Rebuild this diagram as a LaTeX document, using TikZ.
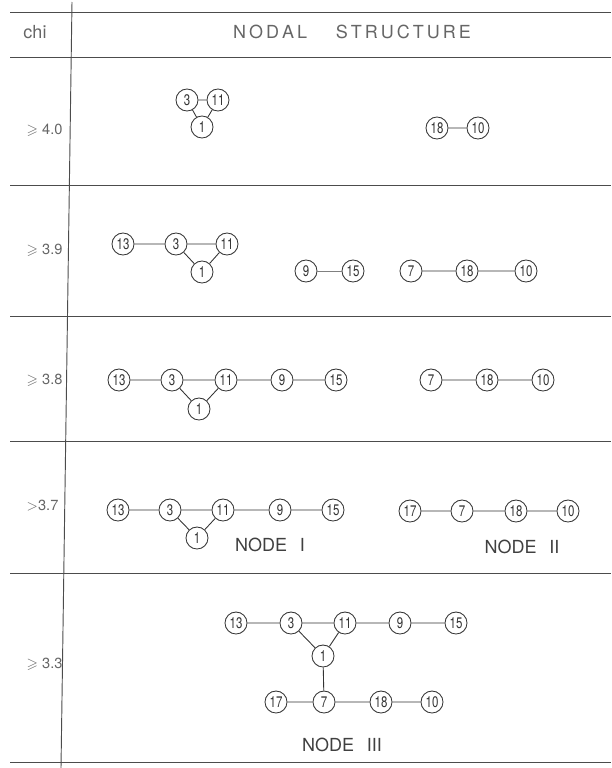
\documentclass[tikz,border=0pt]{standalone}
\usepackage{amssymb}
\usepackage{fontspec}
\setmainfont{TeX Gyre Heros}
\newfontfamily\digfont{TeX Gyre Heros}[FakeStretch=0.75]
\begin{document}
\begin{tikzpicture}[x=0.75pt,y=-0.75pt,
  rule/.style={draw=black!70,line width=0.7pt},
  vx/.style={circle,draw=black!80,line width=0.65pt,minimum size=16.5pt,inner sep=0pt,font=\digfont\fontsize{11.5}{11.5}\selectfont,text=black!80},
  ed/.style={draw=black!80,line width=0.65pt},
  lab/.style={text=black!60,font=\fontsize{11}{11}\selectfont,anchor=west},
  big/.style={text=black!75,font=\fontsize{13.5}{13.5}\selectfont}]
\useasboundingbox (0,0) rectangle (611,768);
% table rules
\coordinate (t0l) at (10,12);   \coordinate (t0r) at (611,12);
\coordinate (t1l) at (10,57);   \coordinate (t1r) at (611,57);
\coordinate (t2l) at (10,185);  \coordinate (t2r) at (611,185);
\coordinate (t3l) at (10,316);  \coordinate (t3r) at (611,316);
\coordinate (t4l) at (10,441);  \coordinate (t4r) at (611,441);
\coordinate (t5l) at (10,573);  \coordinate (t5r) at (611,573);
\coordinate (t6l) at (10,762);  \coordinate (t6r) at (611,762);
\coordinate (vt) at (72,2);     \coordinate (vb) at (61,768);
\foreach \i in {0,...,6} {\draw[rule] (t\i l) -- (t\i r);}
\draw[rule] (vt) -- (vb);
% header
\node[big,text=black!60] (hchi) at (35,32) {chi};
\node[big,text=black!60] (hns) at (352,32) {N\,O\,D\,A\,L\hspace{1.6em}S\,T\,R\,U\,C\,T\,U\,R\,E};
% row labels
\node[lab] (l1) at (22,130) {$\geqslant$ 4.0};
\node[lab] (l2) at (22,250) {$\geqslant$ 3.9};
\node[lab] (l3) at (22,380) {$\geqslant$ 3.8};
\node[lab] (l4) at (22,506) {$>$3.7};
\node[lab] (l5) at (22,664) {$\geqslant$ 3.3};
% row 1
\node[vx] (a3) at (187,100) {3};
\node[vx] (a11) at (218,100) {11};
\node[vx] (a1) at (202,127) {1};
\node[vx] (a18) at (437,128) {18};
\node[vx] (a10) at (478,128) {10};
\draw[ed] (a3)--(a11) (a3)--(a1) (a11)--(a1) (a18)--(a10);
% row 2
\node[vx] (b13) at (123,244) {13};
\node[vx] (b3) at (176,244) {3};
\node[vx] (b11) at (227,244) {11};
\node[vx] (b1) at (202,272) {1};
\node[vx] (b9) at (306,271) {9};
\node[vx] (b15) at (353,271) {15};
\node[vx] (b7) at (411,271) {7};
\node[vx] (b18) at (467,271) {18};
\node[vx] (b10) at (526,271) {10};
\draw[ed] (b13)--(b3) (b3)--(b11) (b3)--(b1) (b11)--(b1) (b7)--(b18) (b18)--(b10);
\draw[ed,line width=0.4pt,draw=black!50] (b9)--(b15);
% row 3
\node[vx] (c13) at (119,380) {13};
\node[vx] (c3) at (172,380) {3};
\node[vx] (c11) at (226,380) {11};
\node[vx] (c9) at (282,380) {9};
\node[vx] (c15) at (336,380) {15};
\node[vx] (c1) at (199,409) {1};
\node[vx] (c7) at (431,380) {7};
\node[vx] (c18) at (487,380) {18};
\node[vx] (c10) at (543,380) {10};
\draw[ed] (c13)--(c3) (c3)--(c11) (c11)--(c9) (c9)--(c15) (c3)--(c1) (c11)--(c1) (c7)--(c18) (c18)--(c10);
% row 4
\node[vx] (d13) at (118,510) {13};
\node[vx] (d3) at (170,510) {3};
\node[vx] (d11) at (223,510) {11};
\node[vx] (d9) at (280,510) {9};
\node[vx] (d15) at (333,510) {15};
\node[vx] (d1) at (197,538) {1};
\node[vx] (d17) at (410,511) {17};
\node[vx] (d7) at (462,511) {7};
\node[vx] (d18) at (516,511) {18};
\node[vx] (d10) at (568,511) {10};
\draw[ed] (d13)--(d3) (d3)--(d11) (d11)--(d9) (d9)--(d15) (d3)--(d1) (d11)--(d1) (d17)--(d7) (d7)--(d18) (d18)--(d10);
\node[big] (nI) at (270,545) {NODE\hspace{0.7em}I};
\node[big] (nII) at (522,547) {NODE\hspace{0.7em}II};
% row 5
\node[vx] (e13) at (236,623) {13};
\node[vx] (e3) at (291,623) {3};
\node[vx] (e11) at (345,623) {11};
\node[vx] (e9) at (400,623) {9};
\node[vx] (e15) at (456,623) {15};
\node[vx] (e1) at (323,656) {1};
\node[vx] (e17) at (276,702) {17};
\node[vx] (e7) at (324,702) {7};
\node[vx] (e18) at (381,702) {18};
\node[vx] (e10) at (432,702) {10};
\draw[ed] (e13)--(e3) (e3)--(e11) (e11)--(e9) (e9)--(e15) (e3)--(e1) (e11)--(e1) (e1)--(e7) (e17)--(e7) (e7)--(e18) (e18)--(e10);
\node[big] (nIII) at (342,745) {NODE\hspace{0.7em}III};
\end{tikzpicture}
\end{document}
